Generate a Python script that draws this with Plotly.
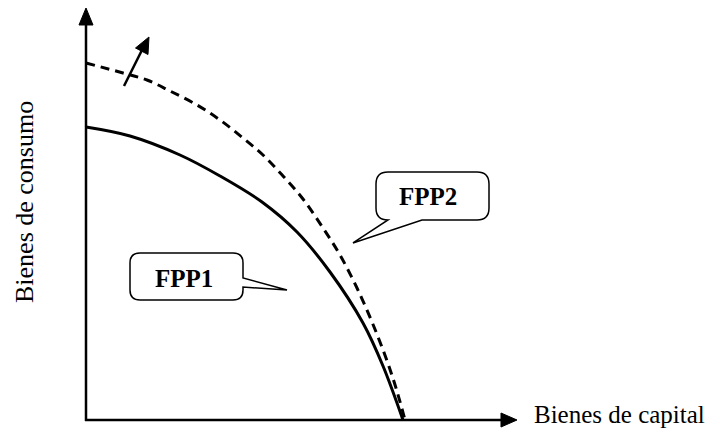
import plotly.graph_objects as go

# ---------------- data (arbitrary units: capital goods vs consumption goods) ----------------
fpp1_capital = [0, 44, 94, 134, 176, 211, 244, 277, 297, 317]
fpp1_consumo = [293, 284, 265, 244, 218, 188, 148, 97, 54, 0]

fpp2_capital = [0, 37, 61, 84, 111, 134, 157, 177, 197, 217, 237, 254, 271, 286, 300, 310, 319]
fpp2_consumo = [357, 347, 340, 329, 315, 300, 282, 265, 244, 221, 192, 165, 132, 98, 62, 32, 0]

x_label = "Bienes de capital"
y_label = "Bienes de consumo"
curve_labels = ["FPP1", "FPP2"]

# the page body has an 8px margin: draw a 704x421 figure offset by 8px
OFF = 8
W, H = 720 - 2 * OFF, 437 - 2 * OFF
FONT = "Liberation Serif, Times New Roman, serif"


def P(x, y):
    """screen pixel -> paper coordinates (decorations only)"""
    return (x - OFF) / W, 1 - (y - OFF) / H


def path(cmds, close=True):
    s = ""
    for cmd, pts in cmds:
        s += cmd + " " + " ".join("%.5f,%.5f" % P(*p) for p in pts) + " "
    if close:
        s += "Z"
    return s


def poly(points):
    cmds = [("M", [points[0]])] + [("L", [p]) for p in points[1:]]
    return path(cmds)


fig = go.Figure()

fig.add_trace(go.Scatter(
    x=fpp1_capital, y=fpp1_consumo, mode="lines",
    line=dict(color="black", width=3, shape="spline", smoothing=1.0),
    showlegend=False, hoverinfo="skip"))

fig.add_trace(go.Scatter(
    x=fpp2_capital, y=fpp2_consumo, mode="lines",
    line=dict(color="black", width=3, dash="9px,6px", shape="spline", smoothing=1.0),
    showlegend=False, hoverinfo="skip"))

shapes = []


def seg(a, b, w=2.5):
    shapes.append(dict(type="line", xref="paper", yref="paper",
                       x0=P(*a)[0], y0=P(*a)[1], x1=P(*b)[0], y1=P(*b)[1],
                       line=dict(color="black", width=w)))


# axes lines
seg((86, 421), (86, 22))
seg((85, 420), (504, 420))
# arrowheads
shapes.append(dict(type="path", xref="paper", yref="paper", path=poly([(86, 8), (79, 25), (93, 25)]),
                   fillcolor="black", line=dict(color="black", width=1)))
shapes.append(dict(type="path", xref="paper", yref="paper", path=poly([(517, 420), (501, 413), (501, 427)]),
                   fillcolor="black", line=dict(color="black", width=1)))
# small shift arrow
seg((124, 86), (143, 48))
shapes.append(dict(type="path", xref="paper", yref="paper", path=poly([(149, 37), (135.5, 48), (148, 54.5)]),
                   fillcolor="black", line=dict(color="black", width=1)))


def callout(L, R, T, B, r, tail_side, tail):
    cmds = [("M", [(L + r, T)]), ("L", [(R - r, T)]), ("Q", [(R, T), (R, T + r)])]
    if tail_side == "right":
        cmds += [("L", [p]) for p in tail]
    cmds += [("L", [(R, B - r)]), ("Q", [(R, B), (R - r, B)])]
    if tail_side == "bottom":
        cmds += [("L", [p]) for p in tail]
    cmds += [("L", [(L + r, B)]), ("Q", [(L, B), (L, B - r)]), ("L", [(L, T + r)]),
             ("Q", [(L, T), (L + r, T)])]
    shapes.append(dict(type="path", xref="paper", yref="paper", path=path(cmds),
                       fillcolor="white", line=dict(color="black", width=1.5)))


callout(130, 243, 253, 300, 10, "right", [(243, 278), (287, 290), (243, 287)])
callout(376, 489, 172, 220, 12, "bottom", [(422, 220), (353, 243), (388, 220)])

annotations = []


def text(s, x, y, size, xanchor="center", angle=0):
    cx, cy = P(x, y)
    annotations.append(dict(text=s, x=cx, y=cy, xref="paper", yref="paper", textangle=angle,
                            showarrow=False, font=dict(family=FONT, size=size, color="black"),
                            xanchor=xanchor, yanchor="middle", borderpad=0))


text("<b>%s</b>" % curve_labels[0], 184, 278, 25)
text("<b>%s</b>" % curve_labels[1], 428, 197, 25)
text(x_label, 533, 414, 25, xanchor="left")
text(y_label, 24, 202, 26, angle=-90)

# data axes: x data = screen_x - 86, y data = 420 - screen_y
fig.update_layout(
    width=W, height=H, autosize=False,
    margin=dict(l=0, r=0, t=0, b=0),
    paper_bgcolor="white", plot_bgcolor="white",
    xaxis=dict(range=[OFF - 86, OFF + W - 86], visible=False, fixedrange=True),
    yaxis=dict(range=[420 - (OFF + H), 420 - OFF], visible=False, fixedrange=True),
    shapes=shapes, annotations=annotations,
)

fig.write_html("out.html")
